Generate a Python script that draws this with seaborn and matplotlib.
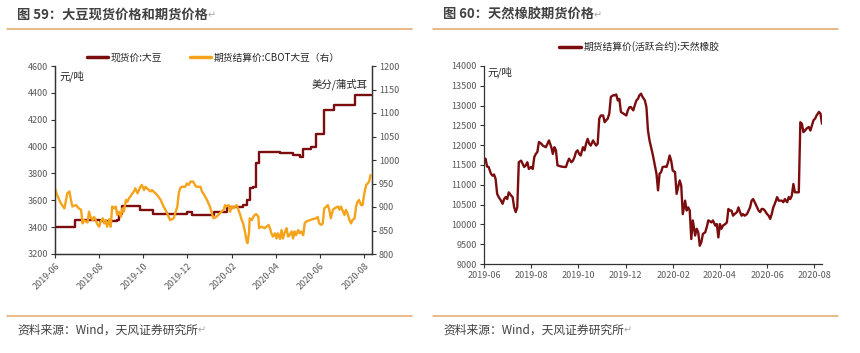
import pandas as pd
import numpy as np
import matplotlib
matplotlib.use('Agg')
import matplotlib.pyplot as plt
import matplotlib.dates as mdates
from matplotlib.lines import Line2D
from matplotlib.text import Annotation
import seaborn as sns

# Data (days counted from 2019-06-01)
start = pd.Timestamp('2019-06-01')

# spot price: soybean, yuan/ton (step series)
spot_day = [0, 27, 62, 86, 88, 93, 118, 136, 182, 189, 219, 237, 260, 265, 269, 274,
            278, 282, 311, 329, 338, 343, 354, 360, 372, 385, 414, 437]
spot_val = [3400, 3455, 3445, 3450, 3500, 3555, 3530, 3500, 3515, 3490, 3515, 3550, 3565, 3600, 3690, 3700,
            3875, 3960, 3955, 3940, 3920, 3980, 3995, 4095, 4270, 4310, 4385, 4385]

# CBOT soybean settlement, US cents/bushel (right axis)
fut_day = [0, 3, 8, 13, 17, 20, 22, 24, 29, 33, 36, 38, 40, 45, 47, 49, 52, 54, 59, 61,
           63, 66, 68, 70, 72, 75, 77, 79, 82, 84, 86, 88, 91, 93, 95, 98, 100, 102, 104, 107,
           109, 111, 114, 116, 118, 120, 123, 125, 127, 132, 134, 136, 141, 146, 150, 155, 159, 164, 169, 171,
           173, 175, 180, 182, 185, 187, 191, 194, 196, 201, 203, 205, 210, 214, 219, 223, 228, 233, 235, 237,
           240, 242, 244, 246, 251, 256, 258, 260, 262, 265, 266, 268, 269, 272, 274, 276, 278, 281, 282, 285,
           290, 295, 297, 299, 301, 304, 306, 308, 311, 313, 315, 317, 320, 322, 324, 327, 329, 331, 333, 336,
           338, 340, 343, 345, 347, 352, 356, 361, 363, 365, 368, 370, 372, 375, 377, 379, 381, 384, 386, 391,
           393, 395, 398, 400, 402, 404, 407, 409, 411, 414, 416, 418, 420, 423, 425, 427, 430, 432, 434, 436]
fut_val = [940, 925, 908, 897, 929, 933, 915, 901, 904, 897, 894, 865, 872, 867, 890, 879, 872, 879, 862, 858,
           869, 876, 865, 872, 858, 874, 858, 901, 897, 901, 883, 890, 879, 897, 890, 915, 911, 918, 922, 929,
           933, 940, 929, 936, 943, 947, 936, 943, 940, 933, 936, 933, 926, 915, 901, 887, 872, 876, 901, 929,
           940, 943, 943, 950, 947, 954, 954, 945, 943, 943, 933, 929, 915, 901, 876, 879, 887, 894, 904, 901,
           904, 890, 901, 897, 904, 883, 872, 865, 851, 826, 823, 844, 876, 872, 879, 883, 885, 879, 855, 858,
           855, 862, 855, 844, 837, 844, 833, 844, 832, 851, 833, 844, 855, 837, 840, 848, 833, 848, 840, 851,
           844, 848, 840, 865, 869, 872, 874, 876, 879, 865, 862, 865, 897, 901, 904, 894, 876, 894, 897, 901,
           894, 901, 890, 883, 894, 887, 872, 865, 872, 876, 901, 911, 915, 904, 904, 926, 947, 950, 954, 968]

# natural rubber futures settlement (active contract), yuan/ton
rub_day = [0, 2, 4, 6, 9, 11, 13, 15, 17, 19, 22, 24, 26, 28, 30, 32, 35, 37, 39, 41,
           43, 45, 48, 50, 52, 54, 56, 58, 61, 63, 65, 67, 69, 71, 74, 76, 80, 84, 87, 89,
           91, 93, 95, 100, 104, 106, 108, 110, 113, 115, 117, 119, 121, 123, 125, 128, 130, 132, 134, 136,
           138, 141, 143, 145, 147, 149, 151, 154, 156, 158, 160, 162, 164, 167, 169, 171, 173, 175, 177, 180,
           182, 184, 186, 188, 190, 193, 195, 197, 199, 201, 203, 205, 208, 210, 212, 214, 218, 223, 225, 227,
           229, 231, 234, 236, 238, 240, 242, 244, 247, 249, 251, 253, 255, 257, 260, 262, 264, 266, 268, 270,
           273, 275, 277, 279, 281, 283, 286, 288, 290, 292, 294, 296, 299, 301, 303, 305, 307, 309, 312, 314,
           316, 318, 320, 322, 324, 327, 329, 331, 333, 335, 337, 340, 344, 346, 348, 350, 353, 355, 357, 359,
           361, 363, 366, 368, 370, 372, 374, 376, 379, 381, 383, 385, 387, 389, 392, 394, 396, 398, 400, 402,
           405, 407, 409, 411, 413, 415, 417, 420, 422, 424, 426, 428, 430, 433, 435, 437]
rub_val = [11610, 11660, 11460, 11450, 11280, 11230, 11260, 11150, 10770, 10690, 10600, 10520, 10640, 10690, 10640, 10810, 10730, 10690, 10430, 10310,
           10430, 11570, 11610, 11530, 11450, 11490, 11570, 11400, 11450, 11400, 11700, 11780, 11830, 12080, 12040, 11990, 11950, 12120, 11950, 11780,
           11950, 11870, 11490, 11460, 11450, 11450, 11570, 11660, 11570, 11610, 11700, 11830, 11870, 11780, 11740, 11950, 11870, 12040, 12160, 12040,
           11990, 12120, 12050, 11990, 12040, 12670, 12750, 12750, 12580, 12630, 12670, 12800, 13220, 13260, 13260, 13280, 13130, 13170, 12840, 12800,
           12770, 12750, 12880, 12960, 12960, 12880, 13010, 13130, 13170, 13260, 13300, 13220, 13130, 12960, 12370, 12120, 11780, 11280, 10860, 11280,
           11320, 11450, 11460, 11450, 11570, 11740, 11610, 11360, 11320, 10770, 10940, 11110, 10980, 10260, 10600, 10350, 10430, 10350, 9630, 10100,
           9720, 9890, 9800, 9460, 9550, 9760, 9800, 9930, 10100, 10080, 10050, 10100, 9970, 10010, 9670, 10010, 9890, 9970, 10010, 10050,
           10390, 10350, 10350, 10220, 10260, 10310, 10430, 10310, 10220, 10260, 10220, 10260, 10430, 10600, 10640, 10560, 10430, 10350, 10310, 10390,
           10390, 10350, 10260, 10220, 10140, 10260, 10430, 10520, 10690, 10600, 10600, 10600, 10560, 10640, 10560, 10690, 10640, 10730, 11020, 10810,
           10810, 10810, 12580, 12540, 12330, 12370, 12420, 12460, 12370, 12500, 12630, 12670, 12750, 12840, 12800, 12540]

spot_df = pd.DataFrame({'date': start + pd.to_timedelta(spot_day, unit='D'), 'price': spot_val})
fut_df = pd.DataFrame({'date': start + pd.to_timedelta(fut_day, unit='D'), 'price': fut_val})
rub_df = pd.DataFrame({'date': start + pd.to_timedelta(rub_day, unit='D'), 'price': rub_val})

maroon = '#7B0D0F'
orange = '#F5A31B'
tan = '#E2A567'
grey = '#595959'

sns.set_style('white')
plt.rcParams['font.family'] = ['Noto Sans CJK SC', 'DejaVu Sans']

W, H = 860, 353
fig = plt.figure(figsize=(8.6, 3.53), dpi=100)


def box(x0, y0, x1, y1):
    return [x0 / W, 1 - y1 / H, (x1 - x0) / W, (y1 - y0) / H]


def style_axis(ax):
    ax.tick_params(axis='both', direction='out', length=3, width=0.8, color='#333333',
                   labelsize=6.5, labelcolor=grey, pad=2)
    for s in ax.spines.values():
        s.set_color('#333333')
        s.set_linewidth(0.9)
    ax.set_xlabel('')
    ax.set_ylabel('')


months = mdates.MonthLocator(bymonth=[2, 4, 6, 8, 10, 12])

# ---- left: soybean spot vs CBOT ----
ax1 = fig.add_axes(box(55, 66, 372, 254))
ax1b = ax1.twinx()
sns.lineplot(data=spot_df, x='date', y='price', ax=ax1, color=maroon, lw=1.7,
             drawstyle='steps-post', estimator=None, legend=False)
sns.lineplot(data=fut_df, x='date', y='price', ax=ax1b, color=orange, lw=1.7,
             estimator=None, legend=False)
ax1.set_xlim(start, pd.Timestamp('2020-08-12'))
ax1.set_ylim(3200, 4600)
ax1.set_yticks(range(3200, 4601, 200))
ax1b.set_ylim(800, 1200)
ax1b.set_yticks(range(800, 1201, 50))
ax1.xaxis.set_major_locator(months)
ax1.xaxis.set_major_formatter(mdates.DateFormatter('%Y-%m'))
for ax in (ax1, ax1b):
    style_axis(ax)
    ax.spines['top'].set_visible(False)
ax1.tick_params(bottom=True, left=True)
ax1b.tick_params(right=True)
plt.setp(ax1.get_xticklabels(), rotation=45, ha='right', rotation_mode='anchor')
ax1.text(0.015, 0.975, '元/吨', transform=ax1.transAxes, va='top', fontsize=7.5)
ax1.text(0.985, 0.905, '美分/蒲式耳', transform=ax1.transAxes, ha='right', va='center', fontsize=7.5)
handles = [Line2D([], [], color=maroon, lw=2.5), Line2D([], [], color=orange, lw=2.5)]
ax1b.legend(handles, ['现货价:大豆', '期货结算价:CBOT大豆（右）'], loc='lower center',
            bbox_to_anchor=(0.50, 0.972), ncol=2, frameon=False, fontsize=7,
            handlelength=2.2, handletextpad=0.3, columnspacing=2.8)

# ---- right: natural rubber futures ----
ax3 = fig.add_axes(box(484, 66, 822, 264))
sns.lineplot(data=rub_df, x='date', y='price', ax=ax3, color=maroon, lw=1.7,
             estimator=None, legend=False)
ax3.set_xlim(start, pd.Timestamp('2020-08-11'))
ax3.set_ylim(9000, 14000)
ax3.set_yticks(range(9000, 14001, 500))
ax3.xaxis.set_major_locator(months)
ax3.xaxis.set_major_formatter(mdates.DateFormatter('%Y-%m'))
style_axis(ax3)
ax3.tick_params(bottom=True, left=True)
ax3.spines['top'].set_visible(False)
ax3.spines['right'].set_visible(False)
ax3.text(0.01, 1.0, '元/吨', transform=ax3.transAxes, va='top', fontsize=7.5)
ax3.legend([Line2D([], [], color=maroon, lw=2.5)], ['期货结算价(活跃合约):天然橡胶'],
           loc='lower center', bbox_to_anchor=(0.46, 1.025), frameon=False, fontsize=7,
           handlelength=2.2, handletextpad=0.3)

# ---- page furniture ----
def page_text(x, y, s, **kw):
    t = fig.text(x / W, 1 - y / H, s, va='center', **kw)
    fig.add_artist(Annotation('↵', xy=(1, 0.1), xycoords=t, va='bottom', ha='left',
                              fontsize=7, color='#A6A6A6', family='DejaVu Sans'))
    return t


page_text(17, 15, '图 59：大豆现货价格和期货价格', fontsize=9.5, fontweight='bold', color='#404040')
page_text(443, 15, '图 60：天然橡胶期货价格', fontsize=9.5, fontweight='bold', color='#404040')
page_text(17, 330, '资料来源：Wind，天风证券研究所', fontsize=8.5, color='#404040')
page_text(443, 330, '资料来源：Wind，天风证券研究所', fontsize=8.5, color='#404040')
for y in (29, 316):
    for x0, x1 in ((7, 412), (433, 838)):
        fig.add_artist(Line2D([x0 / W, x1 / W], [1 - y / H, 1 - y / H], color=tan, lw=1.1))

plt.savefig('out.png', dpi=100)
